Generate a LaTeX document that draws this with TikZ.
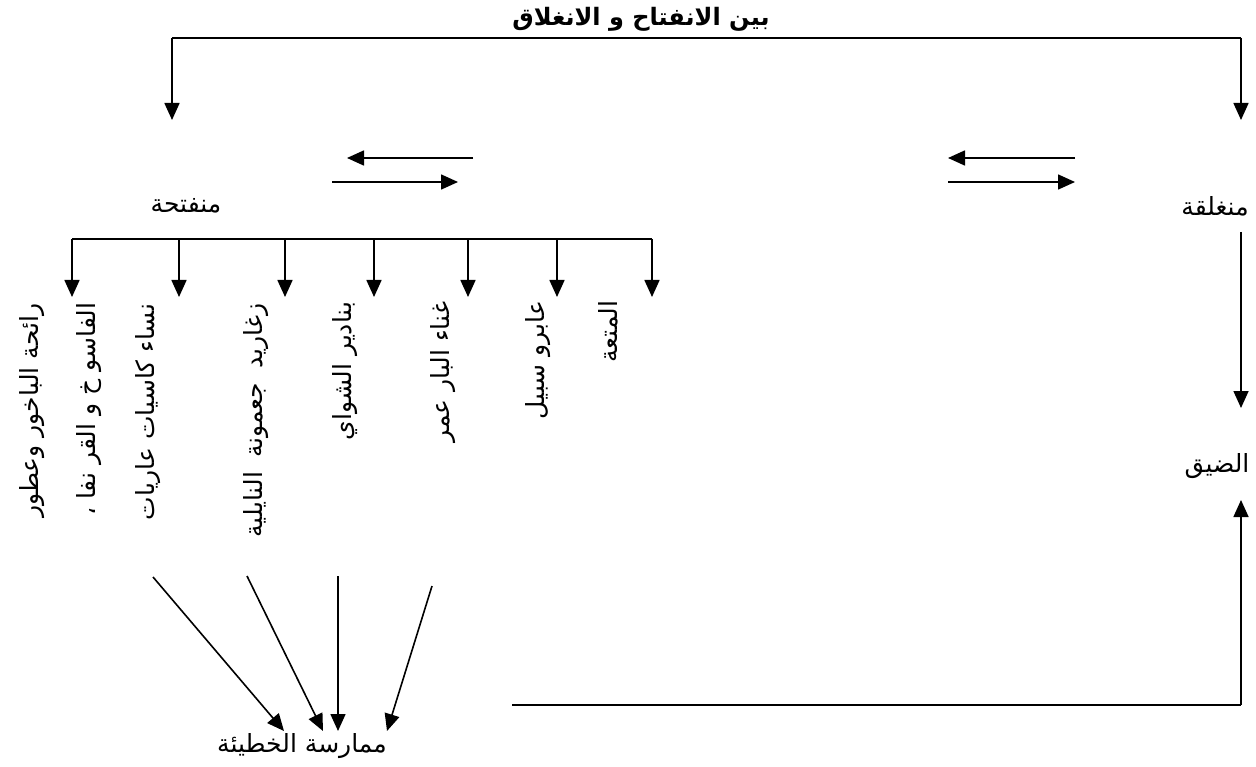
\documentclass[tikz,border=0pt]{standalone}
\usepackage{fontspec}
\newfontfamily\arabicfont[Script=Arabic]{DejaVu Sans}
\TeXXeTstate=1
\usetikzlibrary{arrows.meta}
\newcommand\artxt[1]{{\arabicfont\beginR #1\endR}}
\begin{document}
\begin{tikzpicture}[x=1pt,y=-1pt,
  line width=1.6pt,
  arr/.style={-{Triangle[length=17pt,width=15pt]}},
  lbl/.style={font=\fontsize{25}{30}\selectfont, inner sep=0pt},
  vlbl/.style={lbl, rotate=90, anchor=east},
  ttl/.style={font=\fontsize{24}{28}\selectfont\bfseries, inner sep=0pt}]
\useasboundingbox (0,0) rectangle (1256,767);
% title and top bracket
\node[ttl] (title) at (641,19) {\artxt{بين الانفتاح و الانغلاق}};
\coordinate (tl) at (172,38);
\coordinate (tr) at (1241,38);
\coordinate (tlend) at (172,120);
\coordinate (trend) at (1241,120);
\draw (tl) -- (tr);
\draw[arr] (tl) -- (tlend);
\draw[arr] (tr) -- (trend);
% main nodes
\node[lbl] (open) at (186,206) {\artxt{منفتحة}};
\node[lbl] (closed) at (1215,206) {\artxt{منغلقة}};
\node[lbl] (narrow) at (1217,466) {\artxt{الضيق}};
\node[lbl] (sin) at (302,746) {\artxt{ممارسة الخطيئة}};
% double arrows
\coordinate (a1s) at (473,158); \coordinate (a1e) at (347,158);
\coordinate (a2s) at (332,182); \coordinate (a2e) at (458,182);
\coordinate (b1s) at (1075,158); \coordinate (b1e) at (948,158);
\coordinate (b2s) at (948,182); \coordinate (b2e) at (1075,182);
\draw[arr] (a1s) -- (a1e);
\draw[arr] (a2s) -- (a2e);
\draw[arr] (b1s) -- (b1e);
\draw[arr] (b2s) -- (b2e);
% branches
\coordinate (bl) at (72,239);
\coordinate (br) at (652,239);
\draw (bl) -- (br);
\foreach \i/\x in {1/72,2/179,3/285,4/374,5/468,6/557,7/652}{
  \coordinate (bt\i) at (\x,239);
  \coordinate (bb\i) at (\x,297);
  \draw[arr] (bt\i) -- (bb\i);
}
% vertical labels
\node[vlbl] (l1) at (32,303) {\artxt{رائحة الباخور وعطور}};
\node[vlbl] (l2) at (89,302) {\artxt{الفاسو خ و القر نفا ،}};
\node[vlbl] (l3) at (148,303) {\artxt{نساء كاسيات عاريات}};
\node[vlbl] (l4) at (256,303) {\artxt{زغاريد\hspace{14pt}جعمونة\hspace{14pt}النايلية}};
\node[vlbl] (l5) at (345,301) {\artxt{بنادير الشواي}};
\node[vlbl] (l6) at (443,301) {\artxt{غناء البار عمر}};
\node[vlbl] (l7) at (538,300) {\artxt{عابرو سبيل}};
\node[vlbl] (l8) at (608,300) {\artxt{المتعة}};
% right column
\coordinate (r1s) at (1241,232);
\coordinate (r1e) at (1241,408);
\draw[arr] (r1s) -- (r1e);
\coordinate (r2s) at (1241,705);
\coordinate (r2e) at (1241,500);
\coordinate (hl) at (512,705);
\draw (hl) -- (r2s);
\draw[arr] (r2s) -- (r2e);
% arrows to sin
\coordinate (s1) at (153,577); \coordinate (t1) at (284,731);
\coordinate (s2) at (247,576); \coordinate (t2) at (323,731);
\coordinate (s3) at (338,576); \coordinate (t3) at (338,731);
\coordinate (s4) at (432,586); \coordinate (t4) at (387,731);
\draw[arr] (s1) -- (t1);
\draw[arr] (s2) -- (t2);
\draw[arr] (s3) -- (t3);
\draw[arr] (s4) -- (t4);
\end{tikzpicture}
\end{document}
